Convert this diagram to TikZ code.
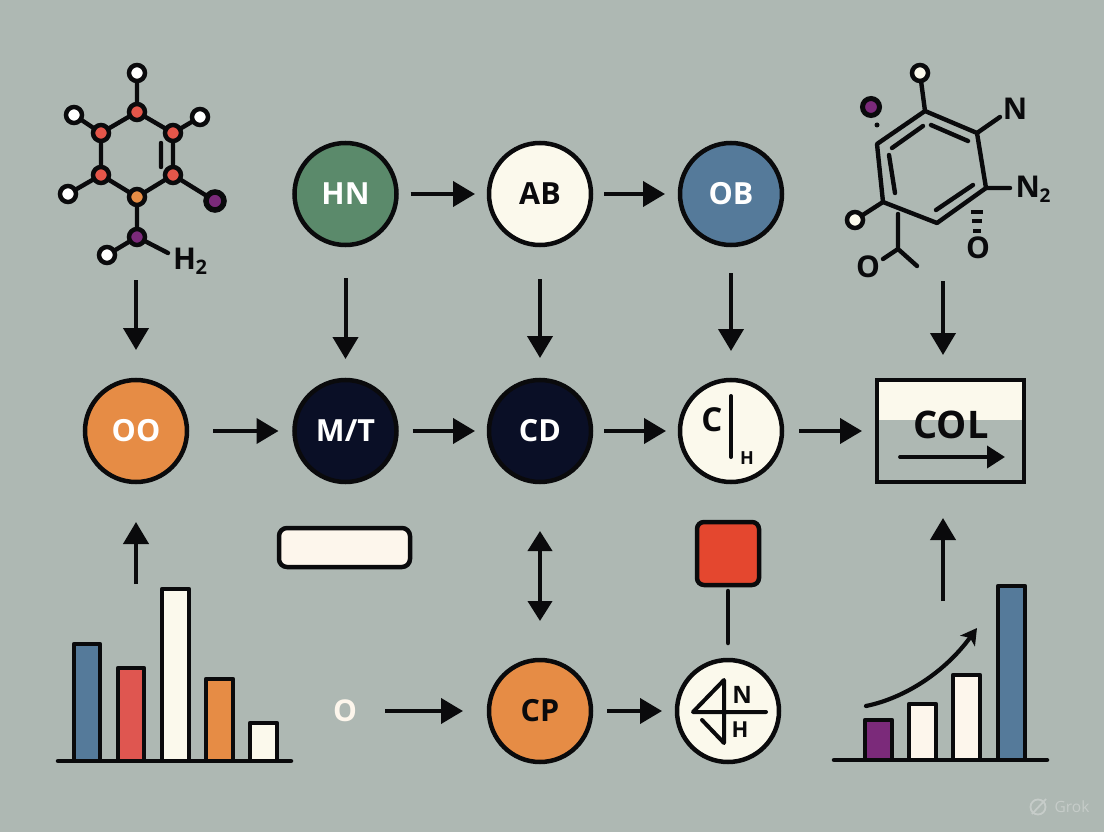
\documentclass[tikz,border=0pt]{standalone}
\usepackage{fontspec}
\setmainfont{Open Sans}
\newcommand{\semi}{\bfseries}
\usetikzlibrary{arrows.meta}
\definecolor{bgc}{HTML}{AEB8B3}
\definecolor{ink}{HTML}{0A0A0C}
\definecolor{creamc}{HTML}{FBF9EC}
\definecolor{warmc}{HTML}{FDF6EC}
\definecolor{greenc}{HTML}{5B8A6B}
\definecolor{bluec}{HTML}{557A9A}
\definecolor{navyc}{HTML}{0A0F26}
\definecolor{orangec}{HTML}{E68C45}
\definecolor{redc}{HTML}{E4472F}
\definecolor{barred}{HTML}{DF5650}
\definecolor{purplec}{HTML}{7B2A7A}
\definecolor{atomred}{HTML}{E5564A}
\definecolor{markc}{HTML}{C6CCC9}
\tikzset{
  x=1pt,y=-1pt,
  big/.style={circle,draw=ink,line width=4.5pt,minimum size=102pt,inner sep=0pt,outer sep=0pt,font=\fontsize{30.5}{31}\selectfont\semi},
  lighttext/.style={text=white},
  darktext/.style={text=ink},
  conn/.style={draw=ink,line width=4pt,-{Triangle[length=22pt,width=25pt]}},
  plainline/.style={draw=ink,line width=4.5pt,line cap=round},
  bond/.style={draw=ink,line width=4.4pt,line cap=round},
  atom/.style={circle,draw=ink,line width=4.5pt,minimum size=16pt,inner sep=0pt,outer sep=0pt},
  bar/.style={draw=ink,line width=4.5pt,line join=round},
  label/.style={inner sep=0pt,outer sep=0pt,text=ink,font=\fontsize{30}{31}\selectfont\semi},
}
\begin{document}
\begin{tikzpicture}
\useasboundingbox (0,0) rectangle (1104,832);
\fill[bgc] (0,0) rectangle (1104,832);

% big circles
\node[big,fill=greenc,lighttext] (hn) at (345.5,194) {HN};
\node[big,fill=creamc,darktext] (ab) at (540,194) {AB};
\node[big,fill=bluec,lighttext] (ob) at (731,194) {OB};
\node[big,fill=orangec,lighttext] (oo) at (136,431) {OO};
\node[big,fill=navyc,lighttext] (mt) at (345.5,431) {M/T};
\node[big,fill=navyc,lighttext] (cd) at (540,431) {CD};
\node[big,fill=creamc] (ch) at (731,431) {};
\node[big,fill=orangec,darktext] (cp) at (540,711) {CP};
\node[big,fill=creamc] (nh) at (728,711) {};

% C|H content
\node[label,font=\fontsize{33}{33}\selectfont\semi] (chc) at (712,420) {C};
\node[label,font=\fontsize{18}{18}\selectfont\semi] (chh) at (747,458) {H};
\coordinate (chta) at (731,396);
\coordinate (chtb) at (731,457);
\draw[plainline,line width=4pt] (chta) -- (chtb);

% N/H content
\coordinate (nha) at (693,712);
\coordinate (nhb) at (766,712);
\coordinate (nhc) at (724,680);
\coordinate (nhd) at (724,743);
\coordinate (nhe) at (702,720);
\draw[plainline,line width=4pt,line join=round] (nhb) -- (nha) -- (nhc) -- (nhd) -- (nhe);
\node[label,font=\fontsize{24}{24}\selectfont\semi] (nhn) at (742,695) {N};
\node[label,font=\fontsize{22}{22}\selectfont\semi] (nhh) at (740,730) {H};

% COL box
\fill[creamc] (877,380) rectangle (1024,420);
\node[draw=ink,line width=4.5pt,minimum width=147pt,minimum height=102pt,inner sep=0pt,outer sep=0pt] (col) at (950.5,431) {};
\node[label,font=\fontsize{38}{38}\selectfont\semi] (coltext) at (951,425) {COL};
\coordinate (colarra) at (900,457);
\coordinate (colarrb) at (1005,457);
\draw[draw=ink,line width=3.8pt,line cap=round,-{Triangle[length=18pt,width=22pt]}] (colarra) -- (colarrb);

% molecule 1
\node[atom,fill=white] (a1) at (137,73) {};
\node[atom,fill=atomred] (a2) at (137,112) {};
\node[atom,fill=atomred] (a3) at (101,133) {};
\node[atom,fill=atomred] (a4) at (173,133) {};
\node[atom,fill=atomred] (a5) at (101,175) {};
\node[atom,fill=atomred] (a6) at (173,175) {};
\node[atom,fill=orangec] (a7) at (137,197) {};
\node[atom,fill=white] (a8) at (74,115) {};
\node[atom,fill=white] (a9) at (200,117) {};
\node[atom,fill=white] (a10) at (68,194) {};
\node[atom,fill=purplec,line width=5.5pt,minimum size=18pt] (a11) at (215,201) {};
\node[atom,fill=purplec] (a12) at (137,237) {};
\node[atom,fill=white] (a13) at (107,255) {};
\node[label] (h2a) at (190,261) {H\kern-0.5pt\raisebox{-5pt}{\fontsize{20}{20}\selectfont 2}};
\coordinate (a14) at (168,253);
\coordinate (a15) at (161,143);
\coordinate (a16) at (161,167);
\draw[bond] (a1)--(a2) (a2)--(a3) (a2)--(a4) (a3)--(a5) (a4)--(a6) (a5)--(a7) (a6)--(a7)
  (a3)--(a8) (a4)--(a9) (a5)--(a10) (a6)--(a11) (a7)--(a12) (a12)--(a13) (a12)--(a14) (a15)--(a16);

% molecule 2
\coordinate (r1) at (925,111);
\coordinate (r2) at (977,133);
\coordinate (r3) at (986,188);
\coordinate (r4) at (937,223);
\coordinate (r5) at (883,202);
\coordinate (r6) at (877,144);
\draw[bond,line join=round] (r1)--(r2)--(r3)--(r4)--(r5)--(r6)--cycle;
\coordinate (i1) at (931,125); \coordinate (i2) at (968,141);
\coordinate (i3) at (973,185); \coordinate (i4) at (936,210);
\coordinate (i5) at (895,193); \coordinate (i6) at (889,155);
\coordinate (i7) at (892,148); \coordinate (i8) at (923,126);
\draw[bond] (i1)--(i2) (i3)--(i4) (i5)--(i6) (i7)--(i8);
\node[atom,fill=creamc] (b1) at (920,73) {};
\node[atom,fill=purplec,line width=5pt,minimum size=17pt] (b2) at (871,107) {};
\node[circle,fill=ink,minimum size=5pt,inner sep=0pt] (b3) at (877,125) {};
\node[atom,fill=creamc] (b4) at (855,220) {};
\node[label] (nn) at (1015,109) {N};
\node[label] (n2) at (1033,189) {N\kern-0.5pt\raisebox{-5pt}{\fontsize{19}{19}\selectfont 2}};
\node[label] (o1) at (978,248) {O};
\node[label] (o2) at (868,267) {O};
\coordinate (s1) at (1000,117);
\coordinate (s2) at (1010,188);
\coordinate (s3) at (898,214);
\coordinate (s4) at (898,249);
\coordinate (s5) at (883,259);
\coordinate (s6) at (917,266);
\draw[bond] (r1)--(b1) (r5)--(b4) (r2)--(s1) (r3)--(s2) (s3)--(s4) (s4)--(s5) (s4)--(s6);
\coordinate (w1) at (971,212); \coordinate (w2) at (983,212);
\coordinate (w3) at (972,221); \coordinate (w4) at (982,221);
\coordinate (w5) at (973,231); \coordinate (w6) at (981,231);
\draw[draw=ink,line width=3.4pt] (w1)--(w2) (w3)--(w4) (w5)--(w6);

% pill, red square, O
\node[draw=ink,line width=4.5pt,fill=warmc,rounded corners=8pt,minimum width=131pt,minimum height=39pt,inner sep=0pt,outer sep=0pt] (pill) at (344.5,547.5) {};
\node[draw=ink,line width=4.5pt,fill=redc,rounded corners=7pt,minimum width=62pt,minimum height=63pt,inner sep=0pt,outer sep=0pt] (sq) at (728,553.5) {};
\node[inner sep=0pt,outer sep=0pt,text=warmc,font=\fontsize{30}{31}\selectfont\semi] (oin) at (345,711) {O};

% left chart
\draw[bar,fill=bluec] (74,761) rectangle (100,644);
\draw[bar,fill=barred] (118,761) rectangle (144,668);
\draw[bar,fill=creamc] (162,761) rectangle (189,589);
\draw[bar,fill=orangec] (206,761) rectangle (233,679);
\draw[bar,fill=creamc] (250,761) rectangle (277,723);
\coordinate (la) at (58,761); \coordinate (lb) at (291,761);
\draw[plainline] (la) -- (lb);

% right chart
\draw[bar,fill=purplec] (865,760) rectangle (892,720);
\draw[bar,fill=warmc] (909,760) rectangle (936,704);
\draw[bar,fill=warmc] (953,760) rectangle (980,675);
\draw[bar,fill=bluec] (998,760) rectangle (1025,586);
\coordinate (ra) at (834,760); \coordinate (rb) at (1047,760);
\draw[plainline] (ra) -- (rb);
\coordinate (ca) at (866,706); \coordinate (cb) at (977,628);
\draw[draw=ink,line width=4.2pt,line cap=round,-{Stealth[length=16pt,width=18pt,inset=4pt]}] (ca) .. controls (905,698) and (945,672) .. (cb);

% free ends of connectors
\coordinate (m1end) at (136,280);
\coordinate (m2end) at (943,281);
\coordinate (m2tip) at (943,380);
\coordinate (lcend) at (136,584);
\coordinate (rcend) at (943,601);
\coordinate (rctip) at (943,482);
\coordinate (oout) at (385,711);

% connectors
\draw[conn,shorten <=14pt,shorten >=14pt] (hn) -- (ab);
\draw[conn,shorten <=13pt,shorten >=15pt] (ab) -- (ob);
\draw[conn,shorten <=33pt,shorten >=21pt] (hn) -- (mt);
\draw[conn,shorten <=34pt,shorten >=22pt] (ab) -- (cd);
\draw[conn,shorten <=28pt,shorten >=29pt] (ob) -- (ch);
\draw[conn,shorten >=30pt] (m1end) -- (oo);
\draw[conn,shorten >=25pt] (m2end) -- (m2tip);
\draw[conn,shorten <=26pt,shorten >=16pt] (oo) -- (mt);
\draw[conn,shorten <=16pt,shorten >=14pt] (mt) -- (cd);
\draw[conn,shorten <=13pt,shorten >=14pt] (cd) -- (ch);
\draw[conn,shorten <=17pt,shorten >=15pt] (ch) -- (col);
\draw[conn,shorten >=40pt] (lcend) -- (oo);
\draw[draw=ink,line width=4pt,{Triangle[length=20pt,width=24pt]}-{Triangle[length=20pt,width=24pt]},shorten <=49pt,shorten >=39pt] (cd) -- (cp);
\draw[conn,shorten >=26pt] (oout) -- (cp);
\draw[conn,shorten <=16pt,shorten >=15pt] (cp) -- (nh);
\draw[plainline,shorten <=6pt,shorten >=17pt] (sq) -- (nh);
\draw[conn,shorten >=36pt] (rcend) -- (rctip);

% watermark
\draw[markc,line width=1.8pt] (1038,807) circle (7.5pt);
\coordinate (wma) at (1032,814); \coordinate (wmb) at (1046,799);
\draw[markc,line width=1.8pt] (wma) -- (wmb);
\node[inner sep=0pt,outer sep=0pt,text=markc,font=\fontsize{15.5}{15.5}\selectfont] (grok) at (1072,807) {Grok};
\end{tikzpicture}
\end{document}
